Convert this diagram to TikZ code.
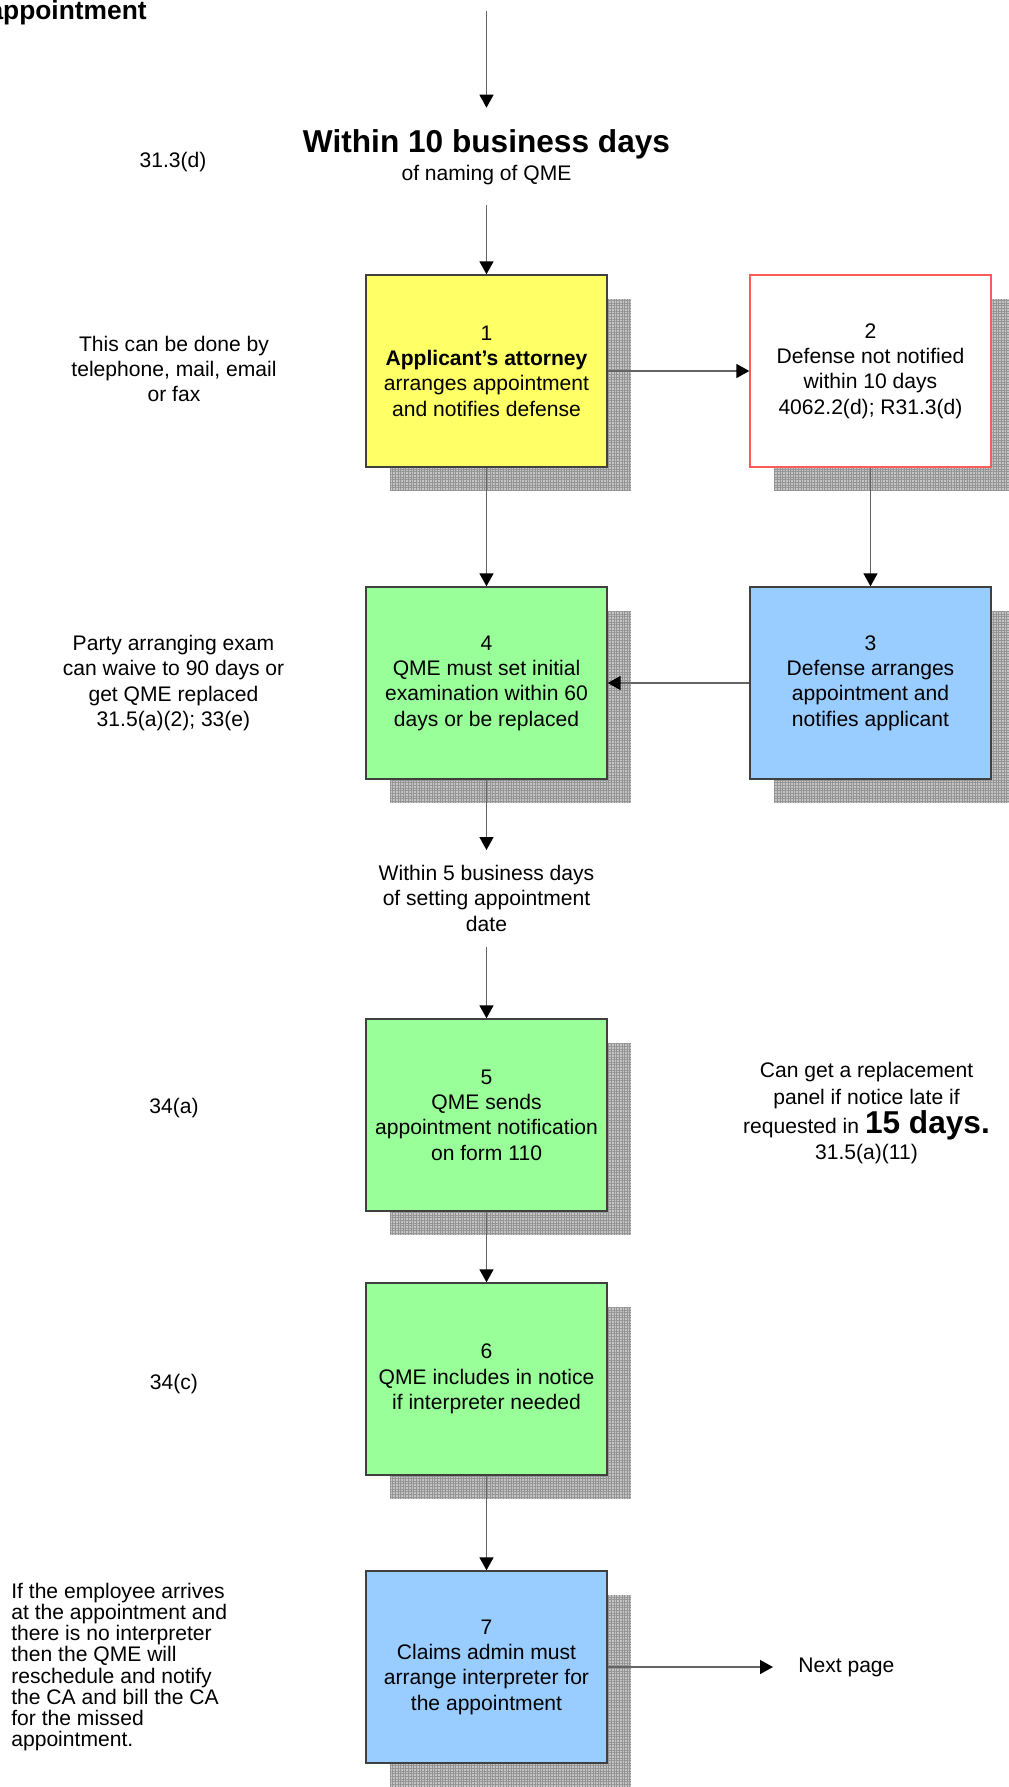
\documentclass[tikz,border=0pt]{standalone}
\usepackage{fontspec}
\setmainfont{Liberation Sans}
\usetikzlibrary{arrows.meta,shadows,patterns.meta}

\definecolor{stepyellow}{RGB}{255,255,102}
\definecolor{stepgreen}{RGB}{153,255,153}
\definecolor{stepblue}{RGB}{153,204,255}
\definecolor{warnred}{RGB}{255,90,90}
\definecolor{edgegray}{RGB}{64,64,64}
\definecolor{flowgray}{RGB}{100,100,100}

\newcommand{\bodysize}{\fontsize{12}{14.4}\selectfont}
\newcommand{\bigsize}{\fontsize{18}{21.6}\selectfont}

\tikzset{
  stepbox/.style={draw=edgegray, line width=0.8pt, minimum width=4.82cm, minimum height=3.84cm,
    inner sep=0pt, align=center, font=\bodysize,
    drop shadow={shadow xshift=0.48cm, shadow yshift=-0.48cm, opacity=1, fill=gray!45,
      postaction={pattern={Hatch[angle=0,distance=1.5pt,line width=0.5pt]}, pattern color=gray!85}}},
  flow/.style={draw=flowgray, line width=0.85pt, -{Triangle[width=0.28cm,length=0.26cm,color=black]}},
  note/.style={font=\bodysize, align=center, inner sep=0pt},
}

\begin{document}
\begin{tikzpicture}[x=0.02cm,y=-0.02cm]
\useasboundingbox (0,0) rectangle (1008,1787);

% Title, cut off at the left edge
\node[font=\fontsize{15}{18}\selectfont\bfseries, anchor=base east, inner sep=0pt] (title) at (147,20) {appointment};

% Drawing step boxes
\node[stepbox, fill=stepyellow] (s1) at (486.5,371) {1\\\textbf{Applicant's attorney}\\arranges appointment\\and notifies defense};
\node[stepbox, fill=white, draw=warnred] (s2) at (870.5,371) {2\\Defense not notified\\within 10 days\\4062.2(d); R31.3(d)};
\node[stepbox, fill=stepblue] (s3) at (870.5,683) {3\\Defense arranges\\appointment and\\notifies applicant};
\node[stepbox, fill=stepgreen] (s4) at (486.5,683) {4\\QME must set initial\\examination within 60\\days or be replaced};
\node[stepbox, fill=stepgreen] (s5) at (486.5,1115) {5\\QME sends\\appointment notification\\on form 110};
\node[stepbox, fill=stepgreen] (s6) at (486.5,1379) {6\\QME includes in notice\\if interpreter needed};
\node[stepbox, fill=stepblue] (s7) at (486.5,1667) {7\\Claims admin must\\arrange interpreter for\\the appointment};

% Deadlines on the main line
\coordinate (entry) at (486.5,11);
\node[font=\bigsize\bfseries, anchor=base, inner ysep=0pt, text height=0.9cm, text depth=0pt] (within10) at (486.5,153) {Within 10 business days};
\node[font=\bodysize, anchor=base, inner ysep=0pt, text depth=0.48cm] (naming) at (486.5,181) {of naming of QME};
\node[note, anchor=north, inner ysep=0.3cm] (within5) at (486.5,850) {Within 5 business days\\of setting appointment\\date};

% Notes beside the boxes
\node[note] (n313) at (173,162.5) {31.3(d)};
\node[note] (nphone) at (174,369) {This can be done by\\telephone, mail, email\\or fax};
\node[note] (nwaive) at (173.5,683) {Party arranging exam\\can waive to 90 days or\\get QME replaced\\31.5(a)(2); 33(e)};
\node[note] (n34a) at (174,1108) {34(a)};
\node[note] (n34c) at (174,1384) {34(c)};
\node[note] (nlate) at (866.5,1113) {Can get a replacement\\[1pt]panel if notice late if\\[0pt]requested in {\bigsize\bfseries 15 days.}\\[0.3pt]31.5(a)(11)};
\node[font=\fontsize{12}{12}\selectfont, align=left, anchor=west, inner sep=0pt] (nmissed) at (11,1667) {If the employee arrives\\at the appointment and\\there is no interpreter\\then the QME will\\reschedule and notify\\the CA and bill the CA\\for the missed\\appointment.};
\node[note, anchor=west, inner xsep=0.5cm] (next) at (773,1667) {Next page};

% Drawing connectors
\draw[flow] (entry) -- (within10.north);
\draw[flow] (naming.south) -- (s1.north);
\draw[flow] (s1) -- (s2);
\draw[flow] (s2) -- (s3);
\draw[flow] (s3) -- (s4);
\draw[flow] (s1) -- (s4);
\draw[flow] (s4) -- (within5);
\draw[flow] (within5) -- (s5);
\draw[flow] (s5) -- (s6);
\draw[flow] (s6) -- (s7);
\draw[flow] (s7) -- (next.west);
\end{tikzpicture}
\end{document}
